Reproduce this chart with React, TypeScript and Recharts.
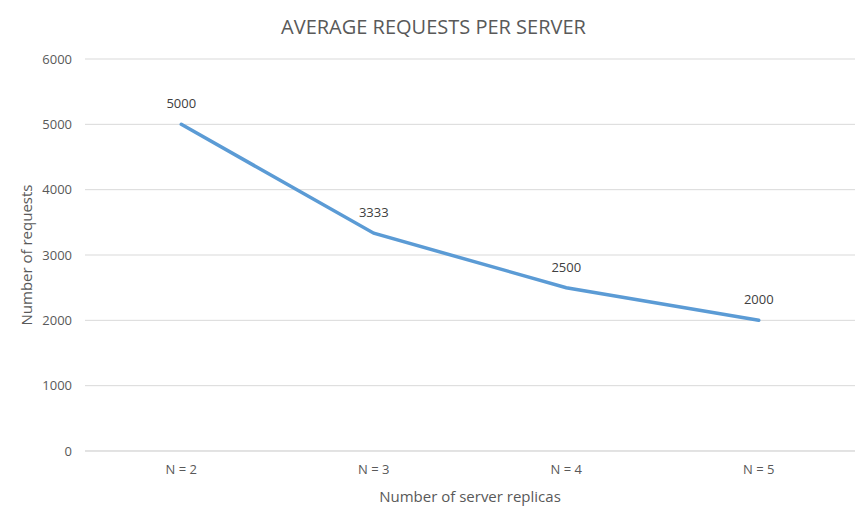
import React from "react";
import { LineChart, Line, XAxis, YAxis, CartesianGrid, LabelList, Label } from "recharts";

const replicas = ["N = 2", "N = 3", "N = 4", "N = 5"];
const requests = [5000, 3333, 2500, 2000];
const yTicks = [0, 1000, 2000, 3000, 4000, 5000, 6000];

const data = replicas.map((name, i) => ({ name, requests: requests[i] }));

const font = "'Open Sans', sans-serif";
const gray = "#595959";

export default function App() {
  return (
    <div style={{ position: "absolute", left: 0, top: 0, width: 867, height: 526, background: "#fff", fontFamily: font }}>
      <div style={{ position: "absolute", top: 13, width: 867, textAlign: "center", fontSize: 20, color: gray }}>
        AVERAGE REQUESTS PER SERVER
      </div>
      <LineChart width={867} height={526} data={data} margin={{ top: 59, right: 12, left: 25, bottom: 15 }}>
        <CartesianGrid vertical={false} stroke="#d9d9d9" />
        <XAxis
          dataKey="name"
          scale="band"
          height={60}
          tickLine={false}
          axisLine={{ stroke: "#d9d9d9" }}
          tickMargin={8}
          tick={{ fill: gray, fontSize: 13, fontFamily: font }}
        >
          <Label value="Number of server replicas" position="insideBottom" offset={9} style={{ fill: gray, fontSize: 15, fontFamily: font }} />
        </XAxis>
        <YAxis
          width={60}
          domain={[0, 6000]}
          ticks={yTicks}
          tickLine={false}
          axisLine={false}
          tickMargin={7}
          tick={{ fill: gray, fontSize: 13, fontFamily: font }}
        >
          <Label value="Number of requests" angle={-90} position="insideLeft" offset={2} style={{ fill: gray, fontSize: 15, fontFamily: font, textAnchor: "middle" }} />
        </YAxis>
        <Line type="linear" dataKey="requests" stroke="#5B9BD5" strokeWidth={3.5} strokeLinecap="round" dot={false} isAnimationActive={false}>
          <LabelList dataKey="requests" position="top" offset={16} style={{ fill: "#404040", fontSize: 13, fontFamily: font }} />
        </Line>
      </LineChart>
    </div>
  );
}
